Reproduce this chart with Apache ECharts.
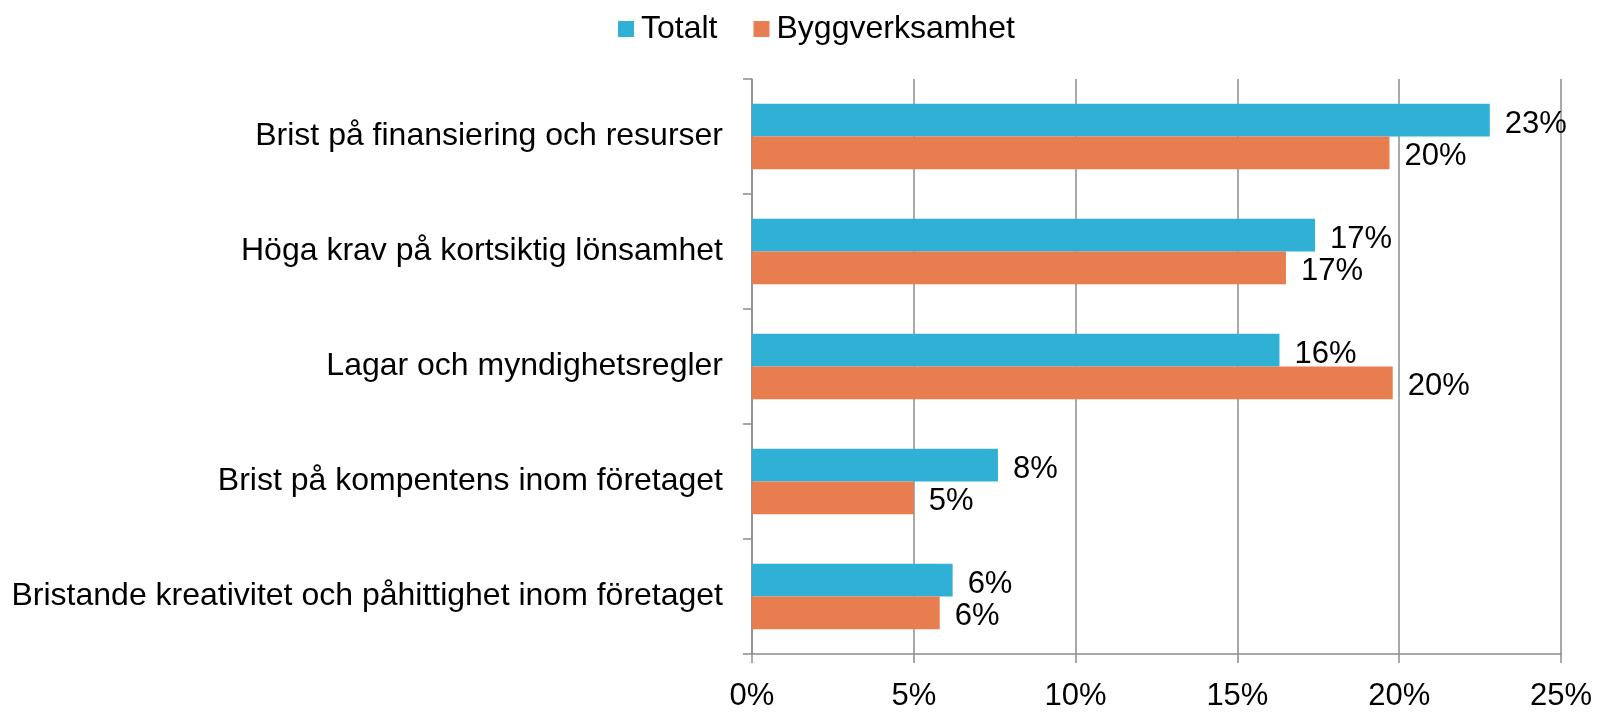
<!DOCTYPE html>
<html>
<head>
<meta charset="utf-8">
<script src="https://cdn.jsdelivr.net/npm/echarts@6/dist/echarts.min.js"></script>
<style>html,body{margin:0;padding:0;background:#fff}#c{width:1610px;height:712px}</style>
</head>
<body>
<div id="c"></div>
<script>
const categories = [
  "Brist på finansiering och resurser",
  "Höga krav på kortsiktig lönsamhet",
  "Lagar och myndighetsregler",
  "Brist på kompentens inom företaget",
  "Bristande kreativitet och påhittighet inom företaget"
];
const totalt = [22.8, 17.4, 16.3, 7.6, 6.2];
const bygg = [19.7, 16.5, 19.8, 5.0, 5.8];
const xTicks = [0, 5, 10, 15, 20, 25];

const FONT = "'Liberation Sans', Arial, sans-serif";
const GRAY = '#8c8c8c';
const chart = echarts.init(document.getElementById('c'), null, {renderer: 'canvas'});
const lbl = {
  show: true, position: 'right', distance: 15, offset: [0, 4],
  fontFamily: FONT, fontSize: 31, color: '#000',
  formatter: p => Math.round(p.value) + '%'
};
chart.setOption({
  animation: false,
  textStyle: {fontFamily: FONT},
  legend: {
    top: 8, left: 613, itemGap: 36, itemWidth: 16, itemHeight: 16,
    icon: 'rect',
    textStyle: {fontFamily: FONT, fontSize: 32, color: '#000', padding: [0, 0, 0, 2]},
    data: ['Totalt', 'Byggverksamhet']
  },
  grid: {left: 752, right: 49, top: 79, bottom: 51, containLabel: false},
  xAxis: {
    type: 'value', min: xTicks[0], max: xTicks[xTicks.length - 1], interval: 5,
    axisLine: {show: true, lineStyle: {color: GRAY, width: 1.5}},
    axisTick: {show: true, length: 9, lineStyle: {color: GRAY, width: 1.5}},
    splitLine: {show: true, lineStyle: {color: GRAY, width: 1.5}},
    axisLabel: {fontFamily: FONT, fontSize: 31, color: '#000', margin: 27,
      formatter: v => v + '%'}
  },
  yAxis: {
    type: 'category', data: categories, inverse: true,
    axisLine: {show: true, lineStyle: {color: GRAY, width: 1.5}},
    axisTick: {show: true, length: 9, lineStyle: {color: GRAY, width: 1.5}},
    axisLabel: {fontFamily: FONT, fontSize: 32, color: '#000', margin: 29}
  },
  series: [
    {name: 'Totalt', type: 'bar', data: totalt, barGap: '0%', barCategoryGap: '43%',
      itemStyle: {color: '#31B0D6'}, label: lbl},
    {name: 'Byggverksamhet', type: 'bar', data: bygg, barGap: '0%', barCategoryGap: '43%',
      itemStyle: {color: '#E87D50'}, label: lbl}
  ]
});
</script>
</body>
</html>
